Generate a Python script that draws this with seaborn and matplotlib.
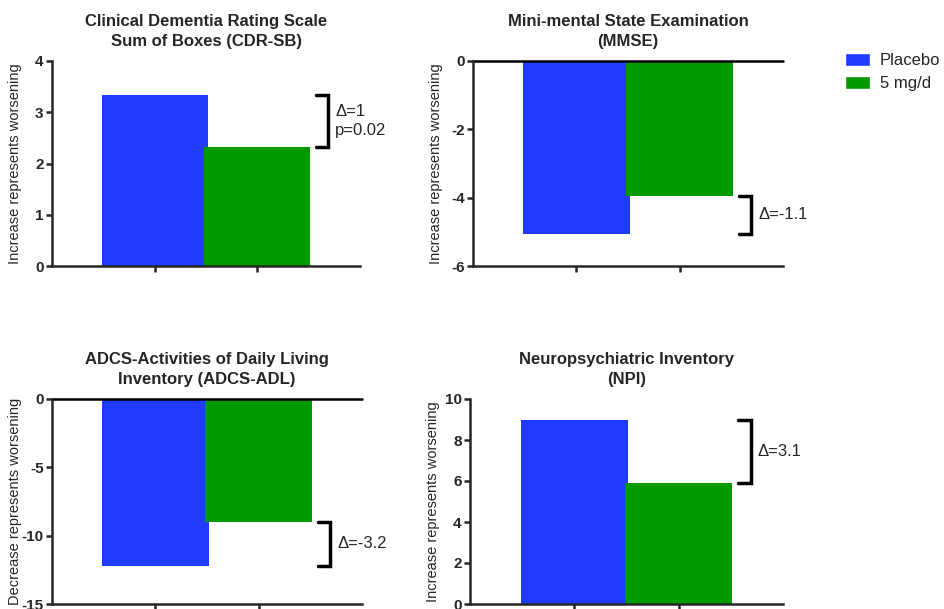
import pandas as pd
import matplotlib.pyplot as plt
import seaborn as sns
from matplotlib.patches import Patch

# values
groups = ["Placebo", "5 mg/d"]
titles = ["Clinical Dementia Rating Scale\nSum of Boxes (CDR-SB)",
          "Mini-mental State Examination\n(MMSE)",
          "ADCS-Activities of Daily Living\nInventory (ADCS-ADL)",
          "Neuropsychiatric Inventory\n(NPI)"]
ylabels = ["Increase represents worsening", "Increase represents worsening",
           "Decrease represents worsening", "Increase represents worsening"]
placebo = [3.33, -5.05, -12.2, 9.0]
dose5 = [2.33, -3.95, -9.0, 5.9]
deltas = ["\u0394=1\np=0.02", "\u0394=-1.1", "\u0394=-3.2", "\u0394=3.1"]
ylims = [(0, 4), (-6, 0), (-15, 0), (0, 10)]
yticks = [[0, 1, 2, 3, 4], [-6, -4, -2, 0], [-15, -10, -5, 0], [0, 2, 4, 6, 8, 10]]

colors = {"Placebo": "#1f3bff", "5 mg/d": "#009a00"}

sns.set_style("ticks")
plt.rcParams['font.family'] = ['Liberation Sans', 'DejaVu Sans']
plt.rcParams['axes.unicode_minus'] = False

fig = plt.figure(figsize=(9.44, 6.09), dpi=100)
W, H = 944, 609
boxes = [(52, 61, 360, 266), (473, 61, 783, 266),
         (52, 399, 362, 604), (470, 399, 783, 604)]

for i in range(4):
    x0, y0, x1, y1 = boxes[i]
    ax = fig.add_axes([x0 / W, 1 - y1 / H, (x1 - x0) / W, (y1 - y0) / H])
    df = pd.DataFrame({"group": groups, "value": [placebo[i], dose5[i]]})
    sns.barplot(data=df, x="group", y="value", hue="group", palette=colors,
                saturation=1, width=1.03, legend=False, ax=ax, edgecolor="none")
    ax.set_xlim(-1, 2)
    ax.set_ylim(*ylims[i])
    ax.set_yticks(yticks[i])
    ax.set_xticks([0, 1])
    ax.set_xticklabels([])
    ax.set_xlabel("")
    ax.set_ylabel(ylabels[i], fontsize=10.5)
    ax.yaxis.set_label_coords(-0.097, 0.5)
    ax.set_title(titles[i], fontsize=12, fontweight="bold", pad=11, linespacing=1.4)
    for lab in ax.get_yticklabels():
        lab.set_fontweight("bold")
    ax.tick_params(axis="both", width=1.8, length=4, labelsize=11, pad=2)
    sns.despine(ax=ax)
    for s in ["left", "bottom"]:
        ax.spines[s].set_linewidth(1.8)
    if ylims[i][1] == 0:
        ax.axhline(0, color="black", lw=1.8, clip_on=False)

    # bracket showing the difference
    a, b = placebo[i], dose5[i]
    xl, xr = 1.57, 1.69
    ax.plot([xl, xr, xr, xl], [a, a, b, b], color="black", lw=2.5,
            solid_joinstyle="miter", clip_on=False)
    ax.text(1.76, (a + b) / 2, deltas[i], fontsize=12, ha="left", va="center",
            linespacing=1.3)

handles = [Patch(facecolor=colors[g], label=g) for g in groups]
fig.legend(handles=handles, loc="upper left", bbox_to_anchor=(845 / W, 1 - 53 / H),
           frameon=False, fontsize=12, handlelength=1.5, handleheight=0.85,
           handletextpad=0.6, labelspacing=0.45, borderpad=0, borderaxespad=0)

fig.savefig("out.png", dpi=100)
